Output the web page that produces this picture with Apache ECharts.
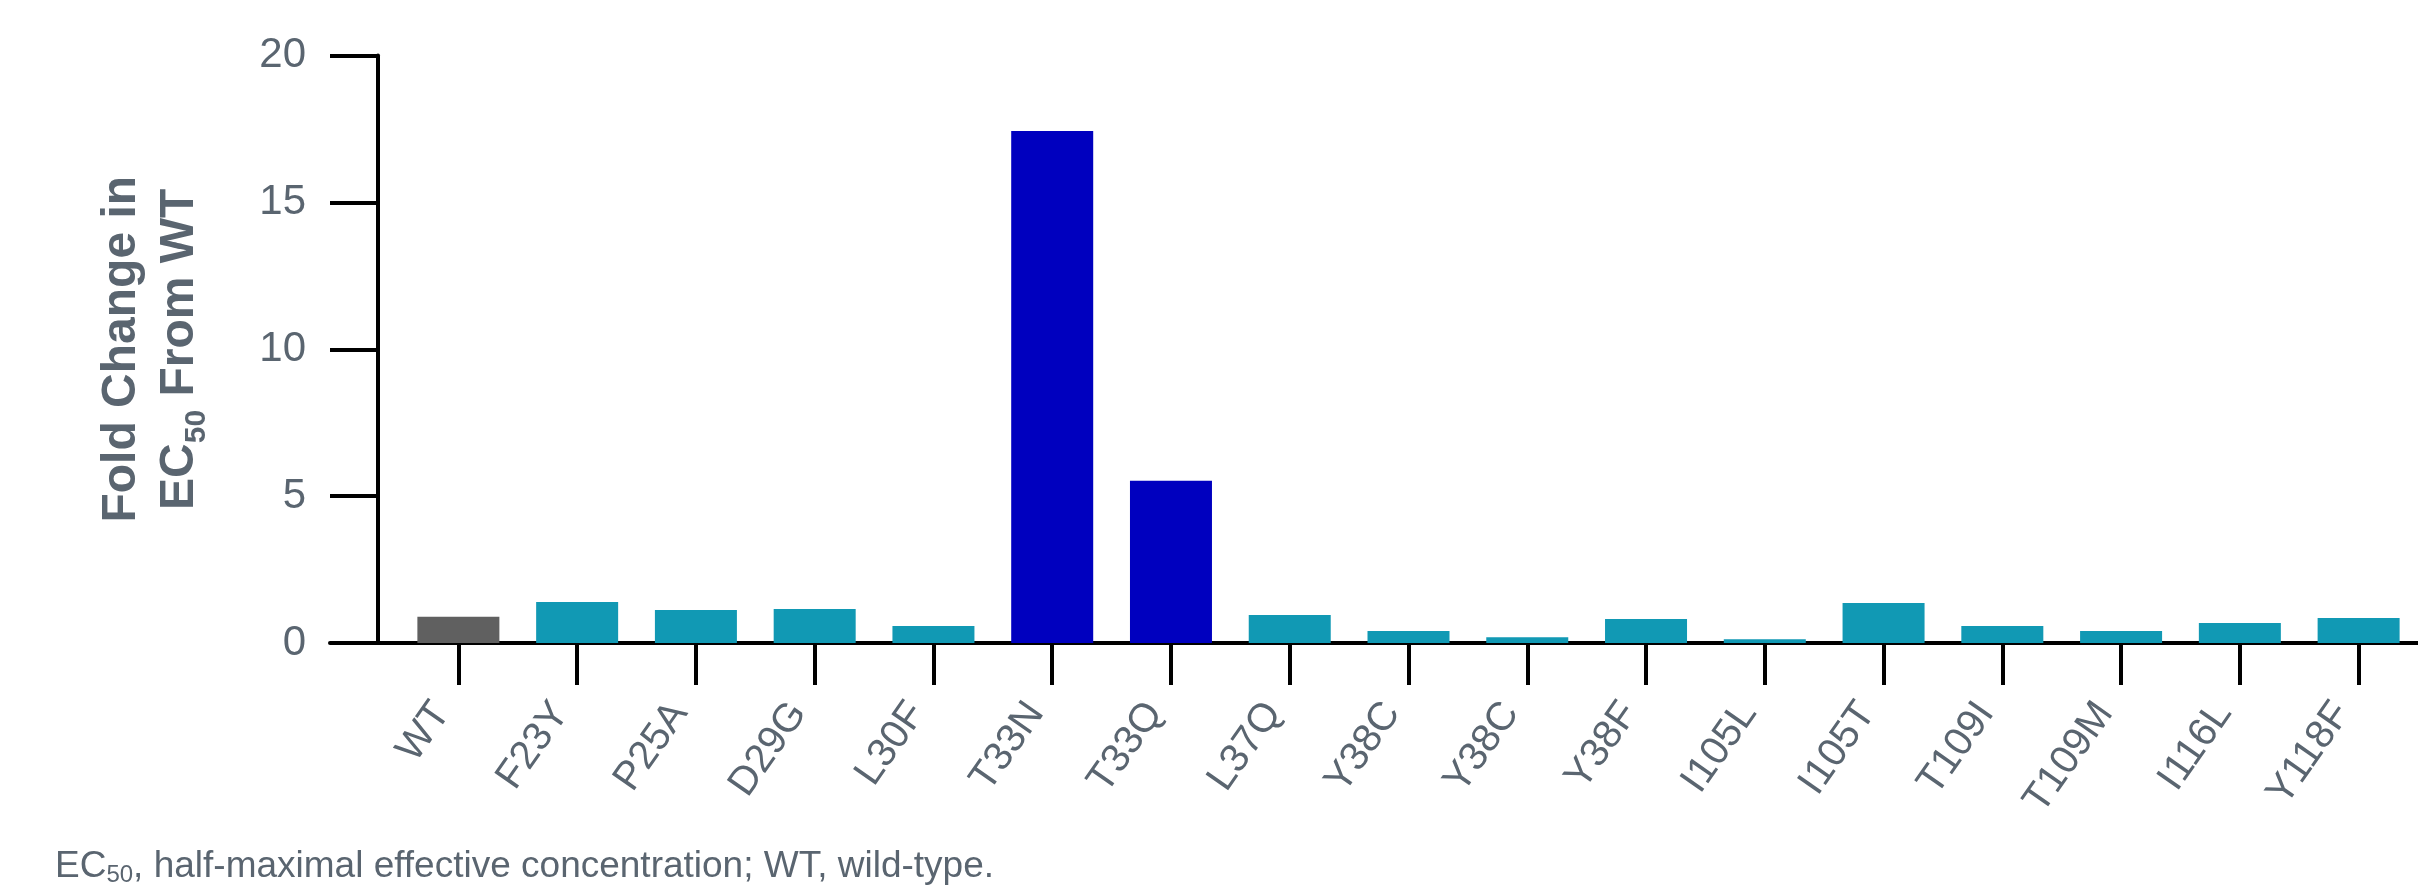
<!DOCTYPE html>
<html>
<head>
<meta charset="utf-8">
<script src="https://cdn.jsdelivr.net/npm/echarts@6/dist/echarts.min.js"></script>
<style>
  html, body { margin: 0; padding: 0; background: #fff; }
  #main { width: 2418px; height: 890px; }
</style>
</head>
<body>
<div id="main"></div>
<script>
// data
var mutants = ['WT', 'F23Y', 'P25A', 'D29G', 'L30F', 'T33N', 'T33Q', 'L37Q', 'Y38C',
  'Y38C', 'Y38F', 'I105L', 'I105T', 'T109I', 'T109M', 'I116L', 'Y118F'];
var foldChange = [0.89, 1.40, 1.12, 1.16, 0.58, 17.43, 5.52, 0.95, 0.41,
  0.20, 0.82, 0.13, 1.36, 0.58, 0.41, 0.68, 0.85];
var wildType = 'WT';
var highShift = ['T33N', 'T33Q'];

var textGray = '#5a6570';
var fontFam = '"Liberation Sans", Arial, sans-serif';

var chartDom = document.getElementById('main');
var myChart = echarts.init(chartDom);
var option;

option = {
  animation: false,
  backgroundColor: '#fff',
  title: {
    left: 55,
    top: 847,
    padding: 0,
    text: '{a|EC}{s|50}{a|, half-maximal effective concentration; WT, wild-type.}',
    textStyle: {
      fontWeight: 'normal',
      rich: {
        a: { fontSize: 37, lineHeight: 40, fontWeight: 'normal', color: textGray, fontFamily: fontFam },
        s: { fontSize: 24, lineHeight: 40, fontWeight: 'normal', color: textGray, fontFamily: fontFam, padding: [16, 0, 0, 0] }
      }
    }
  },
  grid: [
    { left: 399, right: 0, top: 55.5, bottom: 247 },
    { left: 330, right: 0, top: 55.5, bottom: 247 }
  ],
  xAxis: [
    {
      type: 'category',
      gridIndex: 0,
      data: mutants,
      axisLine: { show: false },
      axisTick: {
        show: true,
        alignWithLabel: true,
        length: 42,
        lineStyle: { color: '#000', width: 4 }
      },
      axisLabel: {
        interval: 0,
        rotate: 55,
        margin: 75,
        verticalAlign: 'bottom',
        fontSize: 40,
        lineHeight: 40,
        color: textGray,
        fontFamily: fontFam
      }
    },
    {
      // plain line so the x axis runs past the y axis, as in the figure
      type: 'value',
      gridIndex: 1,
      position: 'bottom',
      min: 0,
      max: 1,
      axisLine: { show: true, onZero: false, lineStyle: { color: '#000', width: 4 } },
      axisTick: { show: false },
      axisLabel: { show: false },
      splitLine: { show: false }
    }
  ],
  yAxis: [
    {
      type: 'value',
      gridIndex: 0,
      min: 0,
      max: 20,
      interval: 5,
      offset: 21,
      name: '{a|Fold Change in}\n{a|EC}{s|50}{a| From WT}',
      nameLocation: 'middle',
      nameRotate: 90,
      nameGap: 169,
      nameTextStyle: {
        rich: {
          a: { fontSize: 48, fontWeight: 'bold', lineHeight: 58, color: textGray, fontFamily: fontFam },
          s: { fontSize: 30, fontWeight: 'bold', lineHeight: 58, color: textGray, fontFamily: fontFam, padding: [34, 0, 0, 0] }
        }
      },
      axisLine: { show: true, lineStyle: { color: '#000', width: 4 } },
      axisTick: { show: true, length: 48, lineStyle: { color: '#000', width: 4 } },
      axisLabel: { margin: 72, fontSize: 42, color: textGray, fontFamily: fontFam },
      splitLine: { show: false }
    },
    {
      type: 'value',
      gridIndex: 1,
      min: 0,
      max: 1,
      show: false
    }
  ],
  series: [
    {
      type: 'bar',
      xAxisIndex: 0,
      yAxisIndex: 0,
      barWidth: 82,
      data: foldChange,
      itemStyle: {
        color: function (p) {
          if (p.name === wildType) return '#606060';
          if (highShift.indexOf(p.name) >= 0) return '#0000bf';
          return '#1199b4';
        }
      }
    }
  ]
};
option && myChart.setOption(option);
</script>
</body>
</html>
